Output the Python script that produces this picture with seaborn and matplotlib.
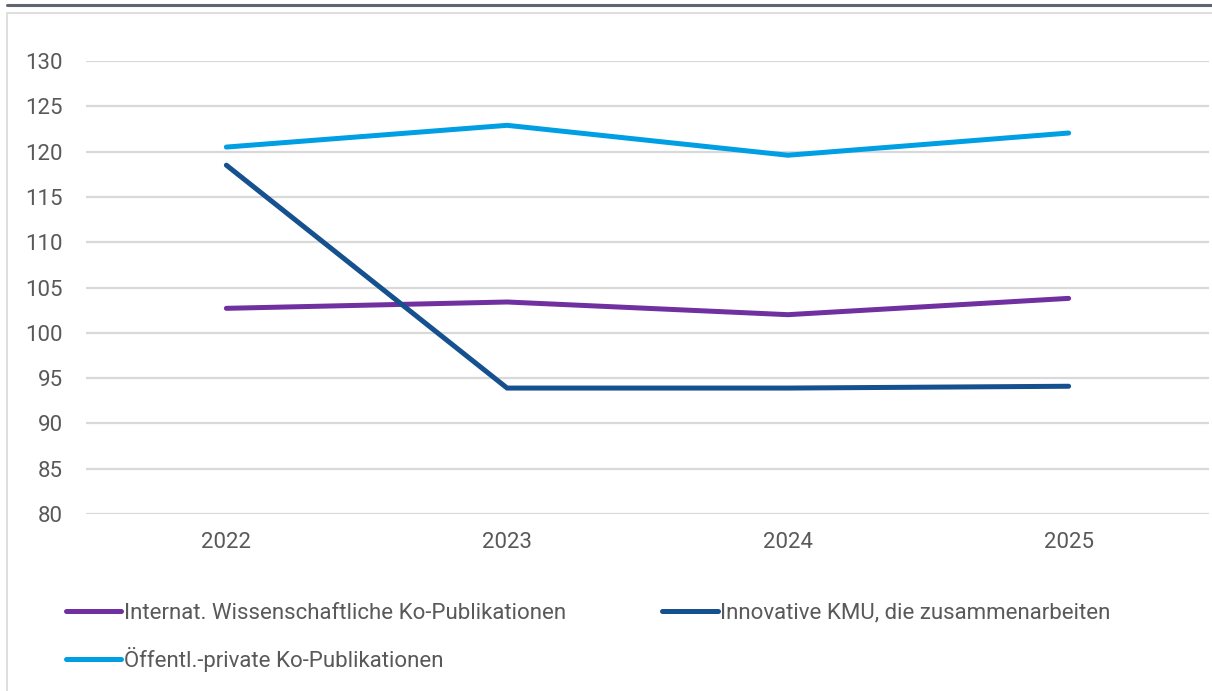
import seaborn as sns
import matplotlib.pyplot as plt
import pandas as pd
from matplotlib.patches import Rectangle
from matplotlib.lines import Line2D

# Daten
jahre = ['2022', '2023', '2024', '2025']
internat = [102.7, 103.4, 102.0, 103.8]
kmu = [118.5, 93.9, 93.9, 94.1]
oeffentl = [120.5, 122.9, 119.6, 122.05]

namen = ['Internat. Wissenschaftliche Ko-Publikationen',
         'Innovative KMU, die zusammenarbeiten',
         'Öffentl.-private Ko-Publikationen']
farben = ['#7030A0', '#15508F', '#009FE3']

df = pd.DataFrame({
    'Jahr': jahre * 3,
    'Wert': internat + kmu + oeffentl,
    'Reihe': [namen[0]] * 4 + [namen[1]] * 4 + [namen[2]] * 4,
})

sns.set_theme(style='white')
plt.rcParams['font.family'] = ['Roboto', 'DejaVu Sans']
textfarbe = '#595959'

fig = plt.figure(figsize=(12.12, 6.91), dpi=100)
ax = fig.add_axes([86 / 1212, 1 - 514 / 691, (1209 - 86) / 1212, (514 - 61) / 691])

sns.lineplot(data=df, x='Jahr', y='Wert', hue='Reihe', palette=farben,
             linewidth=3.6, sort=False, ax=ax, legend=False)
for ln in ax.lines:
    ln.set_solid_capstyle('round')
    ln.set_solid_joinstyle('miter')

ax.set_xlim(-0.5, 3.5)
ax.set_ylim(80, 130)
ax.set_yticks(range(80, 131, 5))
ax.yaxis.grid(True, color='#d9d9d9', linewidth=1.6)
ax.set_axisbelow(True)
for s in ax.spines.values():
    s.set_visible(False)
ax.set_xlabel('')
ax.set_ylabel('')
ax.tick_params(axis='both', length=0, labelsize=16, colors=textfarbe)
ax.tick_params(axis='y', pad=16.5)
ax.tick_params(axis='x', pad=13)

# Rahmen und obere Linie
fig.patches.append(Rectangle((7 / 1212, -0.01), 1.0, 1 - 13 / 691 + 0.01,
                             transform=fig.transFigure, fill=False,
                             edgecolor='#d9d9d9', linewidth=1.2))
fig.lines.append(Line2D([7 / 1212, 1.0], [1 - 5 / 691] * 2, transform=fig.transFigure,
                        color='#5f6670', linewidth=2.2))

# Legende
griffe = [Line2D([], [], color=f, linewidth=3.6, solid_capstyle='round') for f in farben]
reihenfolge = [0, 2, 1]
fig.legend([griffe[i] for i in reihenfolge], [namen[i] for i in reihenfolge],
           loc='upper left', bbox_to_anchor=(57 / 1212, 1 - 594 / 691), ncol=2,
           frameon=False, fontsize=16, labelcolor=textfarbe, handlelength=2.5,
           handletextpad=0.1, columnspacing=4.35, labelspacing=1.05, borderaxespad=0)

fig.savefig('out.png', dpi=100)
